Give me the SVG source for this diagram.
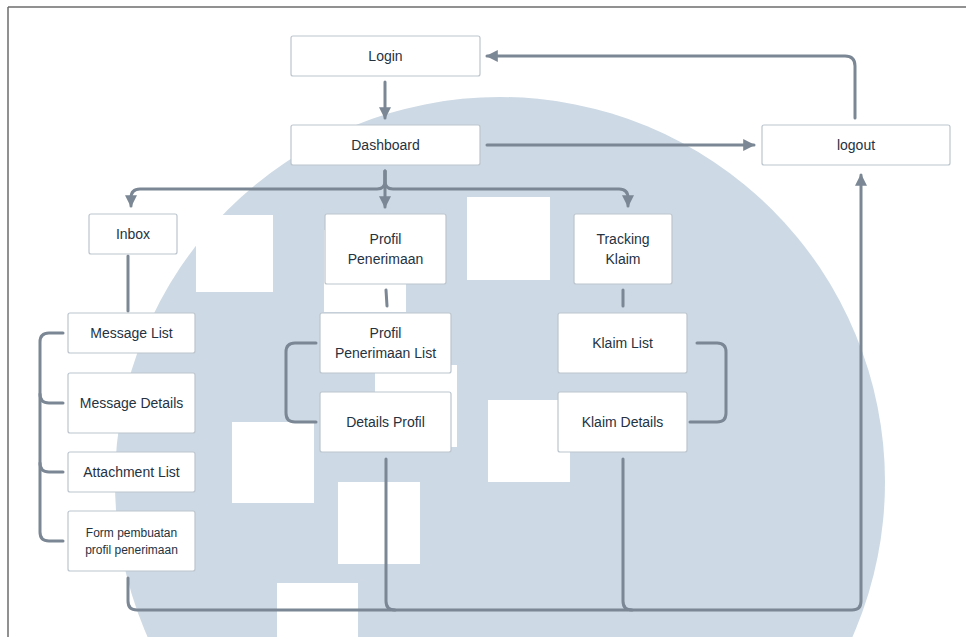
<svg xmlns="http://www.w3.org/2000/svg" width="966" height="637" viewBox="0 0 966 637">
<defs>
<style>
.box{fill:#ffffff;stroke:#bcc5ce;stroke-width:1.2}
.t{font-family:"Liberation Sans",Arial,sans-serif;font-size:14px;fill:#25323f;text-anchor:middle}
.ts{font-family:"Liberation Sans",Arial,sans-serif;font-size:12px;fill:#25323f;text-anchor:middle}
.c{fill:none;stroke:#7b8794;stroke-width:3;stroke-linecap:round;stroke-linejoin:round}
.wm{fill:#ffffff}
</style>
<marker id="ah" viewBox="0 0 10 10" refX="9" refY="5" markerWidth="4" markerHeight="4" markerUnits="strokeWidth" orient="auto">
<path d="M0,0 L10,5 L0,10 Z" fill="#7b8794"/>
</marker>
</defs>
<rect x="0" y="0" width="966" height="637" fill="#ffffff"/>
<g id="background">
<circle cx="500" cy="482" r="385" fill="#cdd9e4"/>
<rect class="wm" x="196" y="215" width="77" height="77"/>
<rect class="wm" x="467" y="197" width="83" height="83"/>
<rect class="wm" x="324" y="230" width="82" height="82"/>
<rect class="wm" x="375" y="365" width="82" height="82"/>
<rect class="wm" x="232" y="422" width="82" height="81"/>
<rect class="wm" x="488" y="400" width="82" height="82"/>
<rect class="wm" x="338" y="482" width="82" height="82"/>
<rect class="wm" x="277" y="583" width="81" height="60"/>
<path d="M8,7 H966 M8,7 V637" fill="none" stroke="#6e6e6e" stroke-width="1.5"/>
</g>
<g id="connectors">
<path class="c" d="M385,82 V118" marker-end="url(#ah)"/>
<path class="c" d="M487,145 H754" marker-end="url(#ah)"/>
<path class="c" d="M855,118 V66 Q855,56 845,56 H487" marker-end="url(#ah)"/>
<path class="c" d="M385,171 V207" marker-end="url(#ah)"/>
<path class="c" d="M385,171 V181 Q385,189 377,189 H140 Q131,189 131,198 V206" marker-end="url(#ah)"/>
<path class="c" d="M385,171 V181 Q385,189 393,189 H619 Q628,189 628,198 V206" marker-end="url(#ah)"/>
<path class="c" d="M128,256 V311"/>
<path class="c" d="M386,290 L387,306"/>
<path class="c" d="M623,290 V306"/>
<path class="c" d="M63,333 H49 Q40,333 40,342 V532 Q40,541 49,541 H63"/>
<path class="c" d="M40,394 Q40,403 49,403 H63"/>
<path class="c" d="M40,463 Q40,472 49,472 H63"/>
<path class="c" d="M316,343 H295 Q286,343 286,352 V413 Q286,422 295,422 H316"/>
<path class="c" d="M697,343 H717 Q726,343 726,352 V413 Q726,422 717,422 H690"/>
<path class="c" d="M128,578 V601 Q128,610 137,610 H852 Q861,610 861,601 V175" marker-end="url(#ah)"/>
<path class="c" d="M386,459 V601 Q386,610 395,610"/>
<path class="c" d="M623,459 V601 Q623,610 632,610"/>
</g>
<g id="login"><rect class="box" x="291" y="36" width="189" height="40" rx="2"/><text class="t" x="385.5" y="61">Login</text></g>
<g id="dashboard"><rect class="box" x="291" y="125" width="189" height="40" rx="2"/><text class="t" x="385.5" y="150">Dashboard</text></g>
<g id="logout"><rect class="box" x="762" y="125" width="188" height="40" rx="2"/><text class="t" x="856" y="150">logout</text></g>
<g id="inbox"><rect class="box" x="89" y="214" width="88" height="40" rx="2"/><text class="t" x="133" y="239">Inbox</text></g>
<g id="profil-penerimaan"><rect class="box" x="325" y="214" width="121" height="70" rx="2"/><text class="t" x="385.5" y="244">Profil</text><text class="t" x="385.5" y="264">Penerimaan</text></g>
<g id="tracking-klaim"><rect class="box" x="574" y="214" width="98" height="70" rx="2"/><text class="t" x="623" y="244">Tracking</text><text class="t" x="623" y="264">Klaim</text></g>
<g id="message-list"><rect class="box" x="68" y="313" width="127" height="40" rx="2"/><text class="t" x="131.5" y="338">Message List</text></g>
<g id="message-details"><rect class="box" x="68" y="373" width="127" height="60" rx="2"/><text class="t" x="131.5" y="408">Message Details</text></g>
<g id="attachment-list"><rect class="box" x="68" y="452" width="127" height="40" rx="2"/><text class="t" x="131.5" y="477">Attachment List</text></g>
<g id="form-pembuatan"><rect class="box" x="68" y="511" width="127" height="60" rx="2"/><text class="ts" x="131.5" y="537">Form pembuatan</text><text class="ts" x="131.5" y="554">profil penerimaan</text></g>
<g id="profil-penerimaan-list"><rect class="box" x="320" y="313" width="131" height="60" rx="2"/><text class="t" x="385.5" y="338">Profil</text><text class="t" x="385.5" y="358">Penerimaan List</text></g>
<g id="details-profil"><rect class="box" x="320" y="392" width="131" height="60" rx="2"/><text class="t" x="385.5" y="427">Details Profil</text></g>
<g id="klaim-list"><rect class="box" x="558" y="313" width="129" height="60" rx="2"/><text class="t" x="622.5" y="348">Klaim List</text></g>
<g id="klaim-details"><rect class="box" x="558" y="392" width="129" height="60" rx="2"/><text class="t" x="622.5" y="427">Klaim Details</text></g>
</svg>
